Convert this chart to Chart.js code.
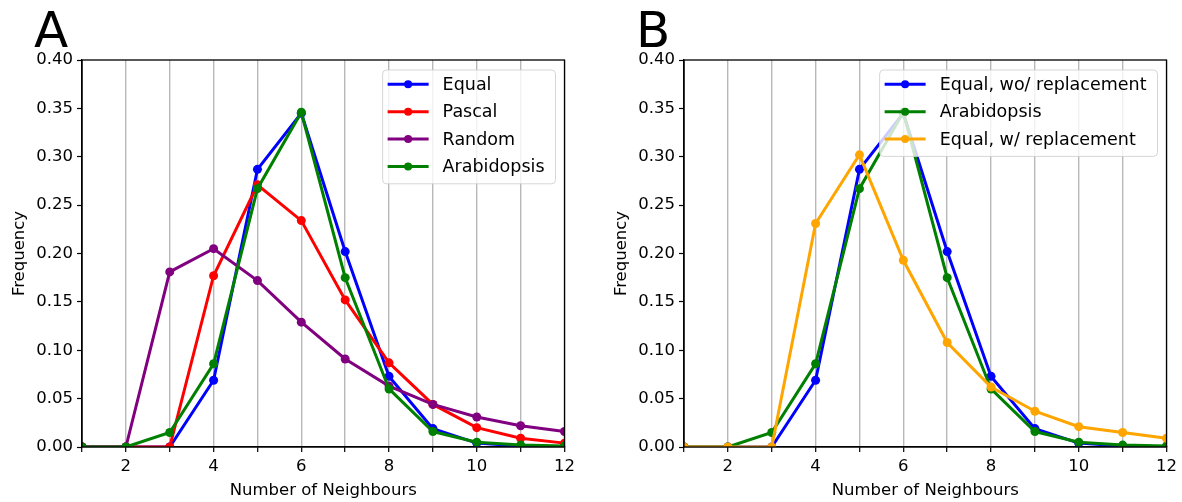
<!DOCTYPE html>
<html>
<head>
<meta charset="utf-8">
<script src="https://cdn.jsdelivr.net/npm/chart.js@4/dist/chart.umd.min.js"></script>
<style>
  html, body { margin: 0; padding: 0; background: #fff; }
  body { width: 1182px; height: 502px; position: relative; overflow: hidden; font-family: 'DejaVu Sans', sans-serif; }
  canvas { position: absolute; top: 0; }
  #chartA { left: 0; }
  #chartB { left: 602px; }
  .panel { position: absolute; top: 5px; font-size: 50px; line-height: 50px; color: #000; }
</style>
</head>
<body>
<div class="panel" style="left:34px">A</div>
<div class="panel" style="left:636px">B</div>
<canvas id="chartA" width="580" height="502"></canvas>
<canvas id="chartB" width="580" height="502"></canvas>
<script>
// number of neighbours (x) and frequency per model
const neighbours = [1, 2, 3, 4, 5, 6, 7, 8, 9, 10, 11, 12];
const equal = [0, 0, 0, 0.069, 0.287, 0.345, 0.202, 0.073, 0.019, 0.004, 0.001, 0];
const pascal = [0, 0, 0, 0.177, 0.271, 0.234, 0.152, 0.087, 0.044, 0.020, 0.009, 0.004];
const random = [0, 0, 0.181, 0.205, 0.172, 0.129, 0.091, 0.063, 0.044, 0.031, 0.022, 0.016];
const arabidopsis = [0, 0, 0.015, 0.086, 0.267, 0.346, 0.175, 0.060, 0.016, 0.005, 0.002, 0.001];
const equalRepl = [0, 0, 0, 0.231, 0.302, 0.193, 0.108, 0.062, 0.037, 0.021, 0.015, 0.009];
const yTicks = [0, 0.05, 0.10, 0.15, 0.20, 0.25, 0.30, 0.35, 0.40];

Chart.defaults.font.family = "'DejaVu Sans', sans-serif";
Chart.defaults.font.size = 16.5;
Chart.defaults.color = '#000';

function pts(vals) {
  return neighbours.map((n, i) => ({ x: n, y: vals[i] }));
}

function series(label, vals, color, order) {
  return {
    label: label,
    data: pts(vals),
    borderColor: color,
    backgroundColor: color,
    pointBackgroundColor: color,
    pointBorderColor: color,
    borderWidth: 3,
    pointRadius: 4.5,
    pointBorderWidth: 0,
    tension: 0,
    clip: 0,
    order: order
  };
}

// frame on top and right + legend box inside the plot (matplotlib style)
const framePlugin = {
  id: 'frameLegend',
  afterDraw(chart) {
    const ctx = chart.ctx;
    const a = chart.chartArea;
    ctx.save();
    ctx.strokeStyle = '#000';
    ctx.lineWidth = 1.3;
    ctx.strokeRect(a.left, a.top, a.right - a.left, a.bottom - a.top);

    const ds = chart.data.datasets;
    ctx.font = "17.5px 'DejaVu Sans', sans-serif";
    let maxW = 0;
    ds.forEach(d => { maxW = Math.max(maxW, ctx.measureText(d.label).width); });
    const w = 5 + 41 + 14 + maxW + 11;
    const rowH = 27.4;
    const h = 14.3 + rowH * (ds.length - 1) + 17.3;
    const x0 = a.right - 9 - w;
    const y0 = a.top + 10;
    ctx.beginPath();
    ctx.roundRect(x0, y0, w, h, 4);
    ctx.fillStyle = 'rgba(255,255,255,0.8)';
    ctx.fill();
    ctx.strokeStyle = 'rgba(204,204,204,0.8)';
    ctx.lineWidth = 1;
    ctx.stroke();
    ds.forEach((d, i) => {
      const cy = y0 + 14.3 + rowH * i;
      ctx.strokeStyle = d.borderColor;
      ctx.lineWidth = 3;
      ctx.beginPath();
      ctx.moveTo(x0 + 5, cy);
      ctx.lineTo(x0 + 46, cy);
      ctx.stroke();
      ctx.fillStyle = d.borderColor;
      ctx.beginPath();
      ctx.arc(x0 + 25.5, cy, 4, 0, Math.PI * 2);
      ctx.fill();
      ctx.fillStyle = '#000';
      ctx.textBaseline = 'middle';
      ctx.textAlign = 'left';
      ctx.fillText(d.label, x0 + 60, cy + 1);
    });
    ctx.restore();
  }
};

function makeOptions() {
  return {
    responsive: false,
    animation: false,
    layout: { padding: { top: 60, right: 15, left: 0, bottom: 0 } },
    plugins: { legend: { display: false }, tooltip: { enabled: false } },
    scales: {
      x: {
        type: 'linear',
        min: 1,
        max: 12,
        afterFit(s) { s.height = 55; },
        ticks: {
          stepSize: 1,
          padding: 5,
          maxRotation: 0,
          autoSkip: false,
          callback: v => (v % 2 === 0 ? String(v) : '')
        },
        grid: { color: '#b8b8b8', lineWidth: 1.4, tickColor: '#000', tickLength: 5, tickWidth: 1.2 },
        border: { color: '#000', width: 1.3 },
        title: { display: true, text: 'Number of Neighbours', padding: { top: 2, bottom: 1 } }
      },
      y: {
        min: 0,
        max: 0.4,
        afterFit(s) { s.width = 82; },
        afterBuildTicks(s) { s.ticks = yTicks.map(v => ({ value: v })); },
        ticks: { padding: 4, callback: v => v.toFixed(2) },
        grid: { drawOnChartArea: false, tickColor: '#000', tickLength: 5, tickWidth: 1.2 },
        border: { color: '#000', width: 1.3 },
        title: { display: true, text: 'Frequency', padding: { top: 10, bottom: 4 } }
      }
    }
  };
}

new Chart(document.getElementById('chartA'), {
  type: 'line',
  data: {
    datasets: [
      series('Equal', equal, '#0000ff', 4),
      series('Pascal', pascal, '#ff0000', 3),
      series('Random', random, '#800080', 2),
      series('Arabidopsis', arabidopsis, '#008000', 1)
    ]
  },
  options: makeOptions(),
  plugins: [framePlugin]
});

new Chart(document.getElementById('chartB'), {
  type: 'line',
  data: {
    datasets: [
      series('Equal, wo/ replacement', equal, '#0000ff', 3),
      series('Arabidopsis', arabidopsis, '#008000', 2),
      series('Equal, w/ replacement', equalRepl, '#ffa500', 1)
    ]
  },
  options: makeOptions(),
  plugins: [framePlugin]
});
</script>
</body>
</html>
